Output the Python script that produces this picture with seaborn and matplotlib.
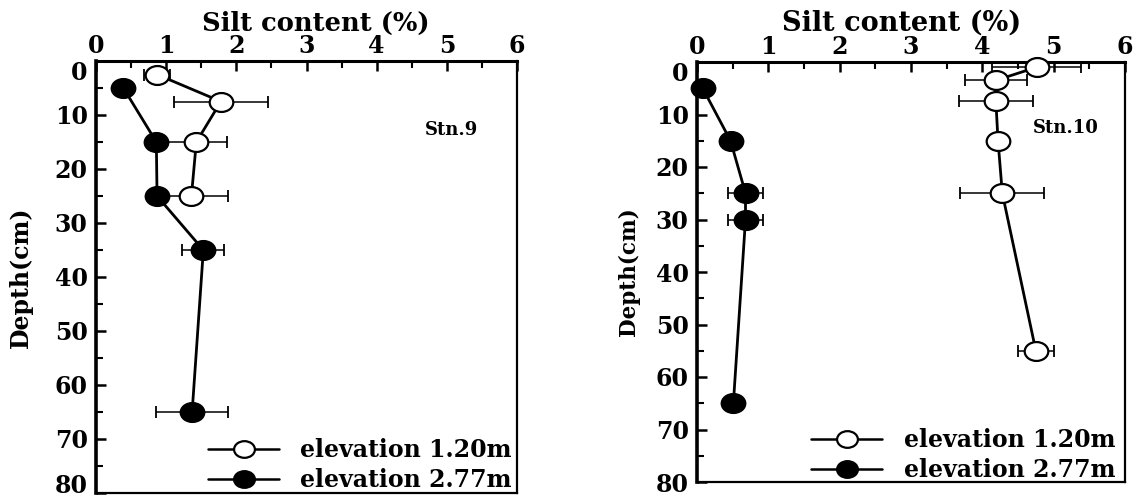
import numpy as np
import pandas as pd
import matplotlib
matplotlib.use("Agg")
import matplotlib.pyplot as plt
from matplotlib.path import Path
from matplotlib.lines import Line2D
from matplotlib.ticker import MultipleLocator
import seaborn as sns

# ---------------- data ----------------
# Stn.9
stn9_open_depth = [2.5, 7.5, 15, 25]
stn9_open_silt = [0.87, 1.78, 1.43, 1.36]
stn9_open_err = [0.18, 0.67, 0.44, 0.52]
stn9_fill_depth = [5, 15, 25, 35, 65]
stn9_fill_silt = [0.39, 0.86, 0.87, 1.53, 1.37]
stn9_fill_err = [0.0, 0.0, 0.0, 0.30, 0.51]
# Stn.10
stn10_open_depth = [1, 3.5, 7.5, 15, 25, 55]
stn10_open_silt = [4.76, 4.19, 4.19, 4.22, 4.28, 4.75]
stn10_open_err = [0.63, 0.44, 0.52, 0.0, 0.59, 0.25]
stn10_fill_depth = [5, 15, 25, 30, 65]
stn10_fill_silt = [0.08, 0.47, 0.68, 0.68, 0.51]
stn10_fill_err = [0.0, 0.0, 0.25, 0.25, 0.0]

legend_labels = ["elevation 1.20m", "elevation 2.77m"]
station_labels = ["Stn.9", "Stn.10"]
x_ticks = [0, 1, 2, 3, 4, 5, 6]
y_ticks = [0, 10, 20, 30, 40, 50, 60, 70, 80]

sns.set_theme(style="ticks")
plt.rcParams["font.family"] = ["DejaVu Serif"]
plt.rcParams["font.weight"] = "bold"
for key in ["text.color", "axes.labelcolor", "xtick.color", "ytick.color",
            "axes.edgecolor"]:
    plt.rcParams[key] = "black"

# elliptical marker (wider than tall)
circ = Path.unit_circle()
ell = Path(circ.vertices * np.array([1.25, 1.0]), circ.codes)

fig = plt.figure(figsize=(11.44, 5.04), dpi=100)
W, H = 1144, 504
ax1 = fig.add_axes([96 / W, 1 - 493 / H, (517 - 96) / W, (493 - 61) / H])
ax2 = fig.add_axes([697 / W, 1 - 482 / H, (1125 - 697) / W, (482 - 62) / H])

# layout helpers per panel (pixel offsets)
panels = [
    dict(ax=ax1, od=stn9_open_depth, os=stn9_open_silt, oe=stn9_open_err,
         fd=stn9_fill_depth, fs=stn9_fill_silt, fe=stn9_fill_err,
         stn=station_labels[0], stnpos=(5.07, 12.8), wpx=421, hpx=432, y0=61,
         xlab_x=316, x0=96, xlab_fs=18.5, ylab_off=63, ylab_fs=17,
         leg_right=5, leg_bottom=1, last_va="baseline"),
    dict(ax=ax2, od=stn10_open_depth, os=stn10_open_silt, oe=stn10_open_err,
         fd=stn10_fill_depth, fs=stn10_fill_silt, fe=stn10_fill_err,
         stn=station_labels[1], stnpos=(5.17, 12.6), wpx=428, hpx=420, y0=62,
         xlab_x=902, x0=697, xlab_fs=19.5, ylab_off=57, ylab_fs=15.5,
         leg_right=10, leg_bottom=0, last_va="center_baseline"),
]

MS = 17
for p in panels:
    ax = p["ax"]
    for d, s, e, fc in [(p["od"], p["os"], p["oe"], "white"),
                        (p["fd"], p["fs"], p["fe"], "black")]:
        df = pd.DataFrame({"depth": d, "silt": s, "err": e})
        sub = df[df["err"] > 0]
        ax.errorbar(sub["silt"], sub["depth"], xerr=sub["err"], fmt="none",
                    ecolor="black", elinewidth=1.1, capsize=4, capthick=1.3,
                    zorder=2, clip_on=False)
        sns.lineplot(data=df, x="silt", y="depth", sort=False, estimator=None,
                     color="black", linewidth=2.0, marker=ell, markersize=MS,
                     markerfacecolor=fc, markeredgecolor="black",
                     markeredgewidth=1.6, ax=ax, zorder=3, clip_on=False)

    ax.set_xlim(0, 6)
    ax.set_ylim(80, 0)
    ax.xaxis.tick_top()
    ax.xaxis.set_label_position("top")
    ax.set_xticks(x_ticks)
    ax.set_yticks(y_ticks)
    ax.xaxis.set_minor_locator(MultipleLocator(0.5))
    ax.yaxis.set_minor_locator(MultipleLocator(5))
    ax.tick_params(axis="both", which="major", direction="in", length=7, width=1.8,
                   labelsize=17, top=True, bottom=False, left=True, right=False,
                   colors="black")
    ax.tick_params(axis="both", which="minor", direction="in", length=5, width=1.5,
                   top=True, bottom=False, left=True, right=False, colors="black")
    ax.tick_params(axis="x", which="major", pad=2)
    ax.tick_params(axis="y", which="major", pad=6)
    for lab in ax.get_xticklabels() + ax.get_yticklabels():
        lab.set_fontweight("bold")
    ylabs = ax.get_yticklabels()
    ylabs[0].set_va("top")
    ylabs[-1].set_va(p["last_va"])
    for sp in ax.spines.values():
        sp.set_visible(True)
        sp.set_color("black")
        sp.set_linewidth(1.6)
    ax.spines["left"].set_linewidth(2.6)
    ax.spines["top"].set_linewidth(2.2)

    ax.set_xlabel("Silt content (%)", fontsize=p["xlab_fs"], fontweight="bold",
                  color="black")
    ax.set_ylabel("Depth(cm)", fontsize=p["ylab_fs"], fontweight="bold",
                  color="black")
    ax.xaxis.set_label_coords((p["xlab_x"] - p["x0"]) / p["wpx"],
                              1 + (p["y0"] - 31) / p["hpx"])
    ax.yaxis.set_label_coords(-p["ylab_off"] / p["wpx"], 0.5)

    ax.text(p["stnpos"][0], p["stnpos"][1], p["stn"], fontsize=13,
            fontweight="bold", ha="center", va="center", color="black")

    handles = [
        Line2D([], [], color="black", linewidth=1.8, marker=ell, markersize=MS - 2,
               markerfacecolor="white", markeredgecolor="black", markeredgewidth=1.6),
        Line2D([], [], color="black", linewidth=1.8, marker=ell, markersize=MS - 2,
               markerfacecolor="black", markeredgecolor="black", markeredgewidth=1.6),
    ]
    ax.legend(handles, legend_labels, loc="lower right", frameon=False,
              prop={"size": 17, "weight": "bold"}, handlelength=3.0,
              handletextpad=0.9, labelspacing=0.25, borderpad=0.0,
              borderaxespad=0.0, labelcolor="black",
              bbox_to_anchor=(1 - p["leg_right"] / p["wpx"],
                              p["leg_bottom"] / p["hpx"]))

fig.savefig("out.png", dpi=100)
